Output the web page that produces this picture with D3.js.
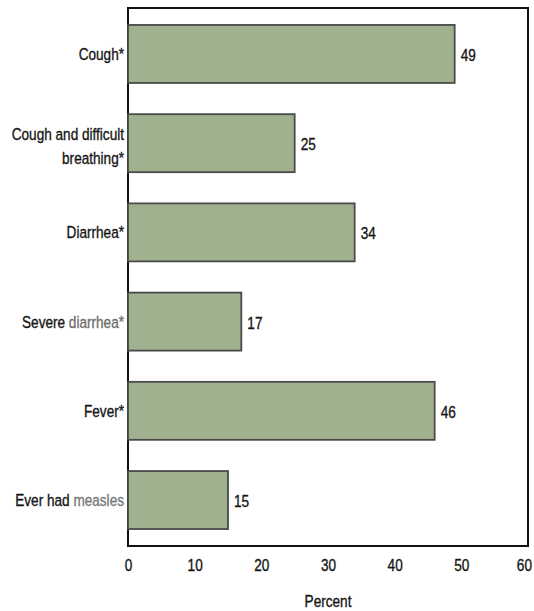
<!DOCTYPE html>
<html><head><meta charset="utf-8">
<script src="https://cdn.jsdelivr.net/npm/d3@7"></script>
<style>body{margin:0;background:#fff}svg{display:block}</style>
</head><body>
<svg id="c" width="534" height="611"></svg>
<script>
const categories = ["Cough*", "Cough and difficult breathing*", "Diarrhea*", "Severe diarrhea*", "Fever*", "Ever had measles"];
const values = [49, 25, 34, 17, 46, 15];
const tickValues = [0, 10, 20, 30, 40, 50, 60];
const axisTitle = "Percent";

const svg = d3.select("#c");
const font = "'Liberation Sans',Arial,sans-serif";
const FS = 17, SX = 0.8;
const m = {l:128, r:6, t:8, b:65};
const W = 534, H = 611;
const x = d3.scaleLinear().domain([0,60]).range([m.l, W - m.r]);
const y = d3.scaleBand().domain(categories).range([m.t, H - m.b]).paddingInner(0.35).paddingOuter(0.19);

function styleText(t){
  return t.attr("font-family",font).attr("font-size",FS).attr("fill","#151515")
    .attr("stroke","#151515").attr("stroke-width",0.35);
}
function ctext(px, py, anchor){
  return styleText(svg.append("g").attr("transform",`translate(${px},${py}) scale(${SX},1)`)
    .append("text").attr("text-anchor",anchor));
}

// frame
svg.append("rect").attr("x", x(0)).attr("y", m.t).attr("width", x(60)-x(0)).attr("height", H-m.b-m.t)
  .attr("fill","none").attr("stroke","#111").attr("stroke-width",2);

// bars
svg.selectAll(".bar").data(categories).join("rect")
  .attr("x", x(0)).attr("y", d=>y(d)).attr("width", (d,i)=>x(values[i])-x(0)).attr("height", y.bandwidth())
  .attr("fill","#a0b190").attr("stroke","#4a4a4a").attr("stroke-width",1.8);

// value labels
categories.forEach((c,i)=>{
  ctext(x(values[i])+6, y(c)+y.bandwidth()/2+7, "start").text(values[i]);
});

// category labels (the scan shows some words lighter)
const labelParts = {
  "Cough and difficult breathing*": [[["Cough and difficult",null]],[["breathing*",null]]],
  "Severe diarrhea*": [[["Severe ",null],["diarrhea*","#6e6e6e"]]],
  "Ever had measles": [[["Ever had ",null],["measles","#7a7a7a"]]]
};
categories.forEach(c=>{
  const lines = labelParts[c] || [[[c,null]]];
  const cy = y(c)+y.bandwidth()/2;
  lines.forEach((parts,k)=>{
    const by = lines.length===1 ? cy+6 : cy-3+k*24;
    const t = ctext(x(0)-4, by, "end");
    parts.forEach(([s,col])=>{
      const ts = t.append("tspan").text(s);
      if(col) ts.attr("fill",col).attr("stroke",col);
    });
  });
});

// x axis
const ax = svg.append("g").attr("transform",`translate(0,${H-m.b})`)
  .call(d3.axisBottom(x).tickValues(tickValues).tickSize(0).tickPadding(13));
ax.select(".domain").remove();
styleText(ax.selectAll("text"))
  .attr("transform",`scale(${SX},1)`)
  .attr("dx",(d)=> d===60 ? "-0.3em" : null);

styleText(svg.append("text").attr("transform",`translate(${x(30)},607) scale(${SX},1)`).attr("text-anchor","middle"))
  .text(axisTitle);
</script>
</body></html>
